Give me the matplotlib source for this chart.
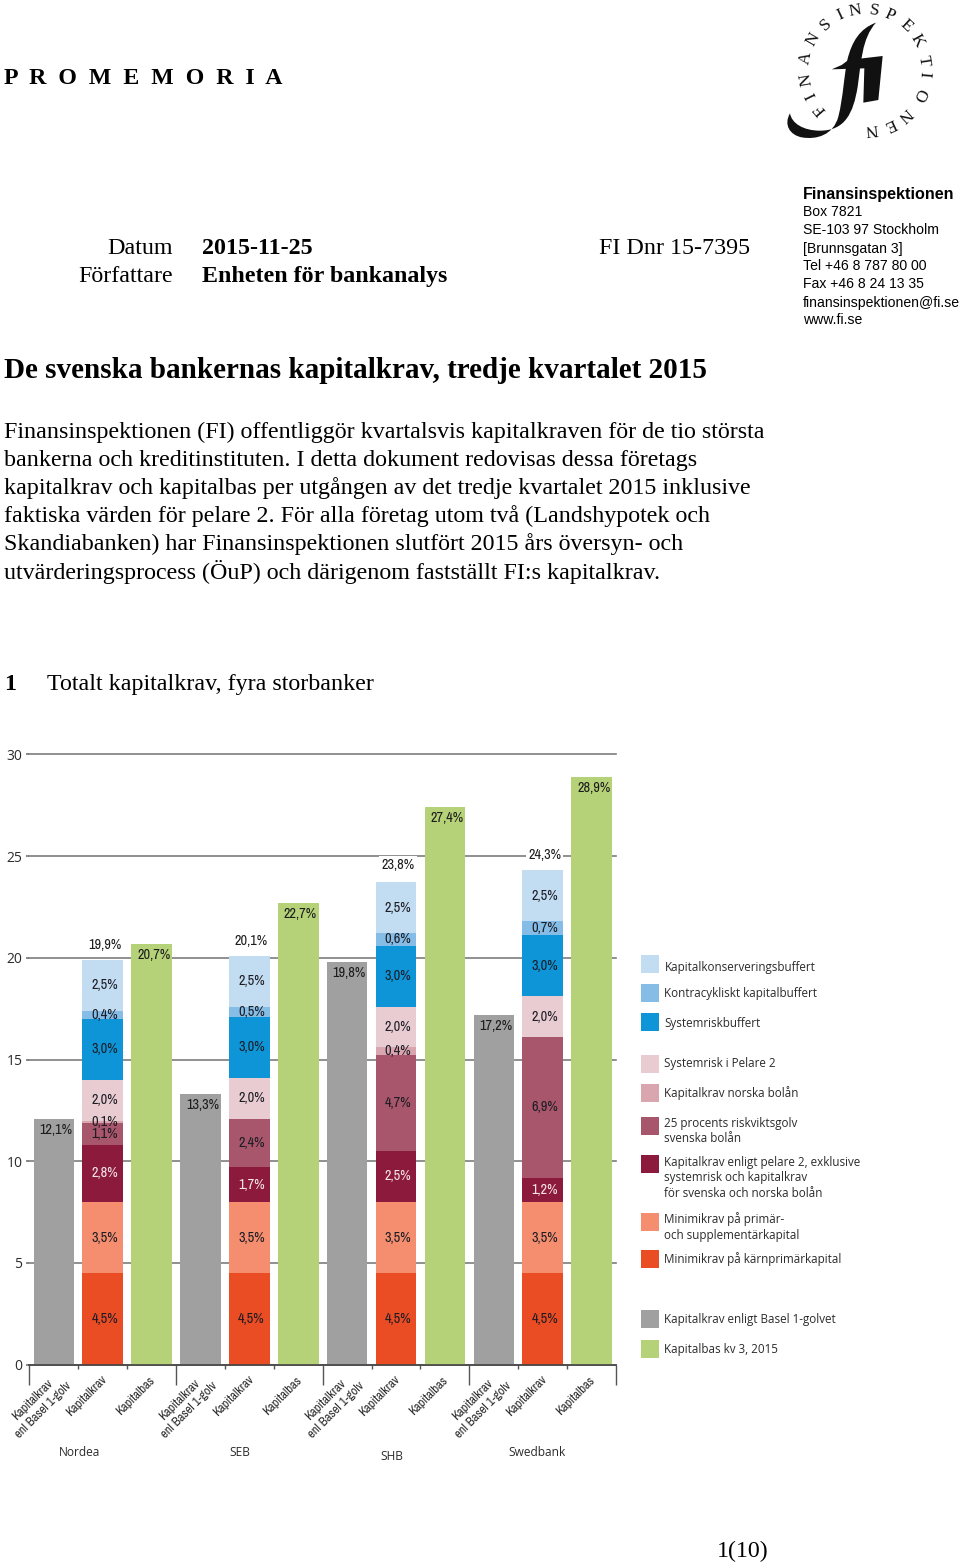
"""Finansinspektionen memo page with the stacked capital requirement chart."""

import numpy as np
import matplotlib
matplotlib.use("Agg")
import matplotlib.pyplot as plt
from matplotlib import font_manager
from matplotlib.patches import PathPatch, Rectangle
from matplotlib.path import Path

# ==========================================
# DATA
# ==========================================
BANKS = ["Nordea", "SEB", "SHB", "Swedbank"]
BASEL_FLOOR = [12.1, 13.3, 19.8, 17.2]
CAPITAL_BASE = [20.7, 22.7, 27.4, 28.9]
TOTALS = [19.9, 20.1, 23.8, 24.3]

# bottom to top
CORE_MIN = [4.5, 4.5, 4.5, 4.5]
PRIMARY_MIN = [3.5, 3.5, 3.5, 3.5]
PILLAR2 = [2.8, 1.7, 2.5, 1.2]
RISK_FLOOR = [1.1, 2.4, 4.7, 6.9]
NORWAY = [0.1, 0.0, 0.4, 0.0]
SYSRISK_P2 = [2.0, 2.0, 2.0, 2.0]
SYSRISK_BUF = [3.0, 3.0, 3.0, 3.0]
COUNTERCYC = [0.4, 0.5, 0.6, 0.7]
CONSERVATION = [2.5, 2.5, 2.5, 2.5]

STACK = [CORE_MIN, PRIMARY_MIN, PILLAR2, RISK_FLOOR, NORWAY,
         SYSRISK_P2, SYSRISK_BUF, COUNTERCYC, CONSERVATION]
STACK_COLORS = ["#EA4C23", "#F58E6E", "#8C1A3D", "#A8566B", "#D9A6B0",
                "#E8CCD2", "#0D95D8", "#85BDE6", "#C2DCF2"]
GREY = "#A0A0A0"
GREEN = "#B6D278"

LEGEND_ITEMS = [
    (964, 967, "#C2DCF2", "Kapitalkonserveringsbuffert"),
    (993, 994, "#85BDE6", "Kontracykliskt kapitalbuffert"),
    (1022, 1023, "#0D95D8", "Systemriskbuffert"),
    (1064, 1064, "#E8CCD2", "Systemrisk i Pelare 2"),
    (1093, 1093, "#D9A6B0", "Kapitalkrav norska bolån"),
    (1126, 1131, "#A8566B", "25 procents riskviktsgolv\nsvenska bolån"),
    (1164, 1178, "#8C1A3D", "Kapitalkrav enligt pelare 2, exklusive\nsystemrisk och kapitalkrav\nför svenska och norska bolån"),
    (1222, 1227, "#F58E6E", "Minimikrav på primär-\noch supplementärkapital"),
    (1259, 1259, "#EA4C23", "Minimikrav på kärnprimärkapital"),
    (1319, 1319, GREY, "Kapitalkrav enligt Basel 1-golvet"),
    (1349, 1349, GREEN, "Kapitalbas kv 3, 2015"),
]

BODY_LINES = [
    "Finansinspektionen (FI) offentliggör kvartalsvis kapitalkraven för de tio största",
    "bankerna och kreditinstituten. I detta dokument redovisas dessa företags",
    "kapitalkrav och kapitalbas per utgången av det tredje kvartalet 2015 inklusive",
    "faktiska värden för pelare 2. För alla företag utom två (Landshypotek och",
    "Skandiabanken) har Finansinspektionen slutfört 2015 års översyn- och",
    "utvärderingsprocess (ÖuP) och därigenom fastställt FI:s kapitalkrav.",
]
CONTACT_LINES = ["Box 7821", "SE-103 97 Stockholm", "[Brunnsgatan 3]", "Tel +46 8 787 80 00",
                 "Fax +46 8 24 13 35", "finansinspektionen@fi.se", "www.fi.se"]

LOGO_LETTERS = "FINANSINSPEKTIONEN"
LOGO_ANGLES = [-131, -116, -100, -79, -60, -41, -25, -10, 9, 24, 43, 61, 81, 95, 115, 138, 155, 174]

W, H = 960, 1563
PX = 0.72  # points per pixel at dpi=100

# a narrow face when one is installed, otherwise the plain face set smaller
narrow_names = sorted({f.name for f in font_manager.fontManager.ttflist
                       if "narrow" in f.name.lower() or "condensed" in f.name.lower()})
HAS_NARROW = bool(narrow_names)
NARROW = narrow_names[0] if HAS_NARROW else "Liberation Sans"
VALUE_SIZE = 10.3 if HAS_NARROW else 8.6
XLABEL_SIZE = 9.1 if HAS_NARROW else 7.6

SERIF = "Liberation Serif"
SANS = "Liberation Sans"
CHART_INK = "#2b2b2b"


def fmt(v: float) -> str:
    return f"{v:.1f}".replace(".", ",") + "%"


def draw_page_text(page) -> None:
    page.text(4, 78, "P  R  O  M  E  M  O  R  I  A", family=SERIF, weight="bold", fontsize=17.2, va="center")
    page.text(173, 248.5, "Datum", family=SERIF, fontsize=17.3, ha="right", va="center")
    page.text(173, 276.5, "Författare", family=SERIF, fontsize=17.3, ha="right", va="center")
    page.text(202, 248.5, "2015-11-25", family=SERIF, weight="bold", fontsize=17.3, va="center")
    page.text(202, 276.5, "Enheten för bankanalys", family=SERIF, weight="bold", fontsize=17.3, va="center")
    page.text(599, 248.5, "FI Dnr 15-7395", family=SERIF, fontsize=17.3, va="center")

    page.text(803, 194, "Finansinspektionen", family=SANS, weight="bold", fontsize=11.65, va="center")
    for i, line in enumerate(CONTACT_LINES):
        page.text(803, 212.5 + 18 * i, line, family=SANS, fontsize=10.1, va="center")

    page.text(4, 371, "De svenska bankernas kapitalkrav, tredje kvartalet 2015",
              family=SERIF, weight="bold", fontsize=21, va="center")
    for i, line in enumerate(BODY_LINES):
        page.text(4, 432.5 + 28 * i, line, family=SERIF, fontsize=17.3, va="center")

    page.text(4, 684.5, "1", family=SERIF, weight="bold", fontsize=17.3, va="center")
    page.text(47, 684.5, "Totalt kapitalkrav, fyra storbanker", family=SERIF, fontsize=17.3, va="center")
    page.text(717, 1551.5, "1(10)", family=SERIF, fontsize=17.2, va="center")


def draw_logo(page) -> None:
    cx, cy, r = 865, 69.5, 59.5
    for letter, ang in zip(LOGO_LETTERS, LOGO_ANGLES):
        a = np.deg2rad(ang)
        page.text(cx + r * np.sin(a), cy - r * np.cos(a), letter, family=SERIF, fontsize=12.5,
                  color="#111111", rotation=-ang, rotation_mode="anchor", ha="center", va="center")

    # fi monogram, outline (3x crop at 770,0)
    M, C, L = Path.MOVETO, Path.CURVE4, Path.LINETO
    stem = [(318, 68), (270, 85), (245, 125), (232, 180),
            (222, 225), (220, 290), (205, 350),
            (190, 405), (140, 420), (95, 412),
            (60, 405), (40, 375), (60, 340),
            (65, 370), (100, 392), (150, 392),
            (225, 392), (250, 340), (263, 260),
            (273, 190), (275, 115), (318, 68)]
    stem_codes = [M] + [C] * 21
    bar = [(185, 208), (215, 195), (235, 180), (338, 168), (325, 300), (280, 308), (283, 205), (185, 208)]
    bar_codes = [M, L, L, L, L, L, L, Path.CLOSEPOLY]
    for verts, codes in ((stem, stem_codes), (bar, bar_codes)):
        pts = np.array(verts, dtype=float) / 3 + [770, 0]
        page.add_patch(PathPatch(Path(pts, codes), fc="#111111", ec="none"))


def draw_chart(ax) -> None:
    n = len(BANKS)
    x0 = np.arange(n) * 3.0
    width = 0.83

    ax.bar(x0, BASEL_FLOOR, width, color=GREY, zorder=2)
    ax.bar(x0 + 2, CAPITAL_BASE, width, color=GREEN, zorder=2)

    bottom = np.zeros(n)
    for vals, col in zip(STACK, STACK_COLORS):
        vals = np.array(vals)
        ax.bar(x0 + 1, vals, width, bottom=bottom, color=col, zorder=2)
        for i in range(n):
            if vals[i] > 0:
                ink = "#f4e6ea" if col == "#8C1A3D" else "#1c1c24"
                ax.annotate(fmt(vals[i]), (x0[i] + 1, bottom[i] + vals[i] / 2), xytext=(1.5, 0),
                            textcoords="offset points", ha="center", va="center", family=NARROW,
                            fontsize=VALUE_SIZE, color=ink, zorder=4)
        bottom += vals

    for i in range(n):
        for x, v in ((x0[i], BASEL_FLOOR[i]), (x0[i] + 2, CAPITAL_BASE[i])):
            ax.annotate(fmt(v), (x, v), xytext=(1.5, -11 * PX), textcoords="offset points",
                        ha="center", va="center", family=NARROW, fontsize=VALUE_SIZE, color="#1c1c1c", zorder=4)
        ax.annotate(fmt(TOTALS[i]), (x0[i] + 1, TOTALS[i]), xytext=(1.5, 15 * PX), textcoords="offset points",
                    ha="center", va="center", family=NARROW, fontsize=VALUE_SIZE, color="#1c1c1c", zorder=4,
                    bbox=dict(fc="white", ec="none", pad=1.5))

    ax.set_xlim(-0.5, 3 * n - 0.5)
    ax.set_ylim(0, 30)
    ax.set_yticks(range(0, 31, 5))
    ax.tick_params(axis="y", length=2, width=1.2, color="#777777", pad=3, labelsize=10, labelcolor=CHART_INK)
    for lab in ax.get_yticklabels():
        lab.set_family("Open Sans")
    ax.yaxis.grid(True, color="#7d7d7d", lw=1.2, zorder=1)
    ax.set_axisbelow(True)
    for line in ax.get_ygridlines():
        line.set_clip_on(False)
    for side in ("top", "right", "left"):
        ax.spines[side].set_visible(False)
    ax.spines["bottom"].set_color("#444444")
    ax.spines["bottom"].set_linewidth(1.2)

    ax.set_xticks(np.arange(0, 3 * n + 1) - 0.5)
    ax.set_xticklabels([])
    ax.tick_params(axis="x", length=3, width=1.0, color="#555555")
    for k, tick in enumerate(ax.xaxis.get_major_ticks()):
        if k % 3 == 0:
            tick.tick1line.set_markersize(20 * PX)

    for i in range(n):
        labels = [("Kapitalkrav\nenl Basel 1-golv", 40), ("Kapitalkrav", 31), ("Kapitalbas", 31)]
        for j, (text, dy) in enumerate(labels):
            ax.annotate(text, (x0[i] + j, 0), xytext=(-16 * PX, -dy * PX), textcoords="offset points",
                        ha="center", va="center", rotation=45, family=NARROW, fontsize=XLABEL_SIZE,
                        color=CHART_INK, linespacing=1.4, annotation_clip=False)


def draw_legend_and_groups(page) -> None:
    for sw_y, txt_y, col, text in LEGEND_ITEMS:
        page.add_patch(Rectangle((641, sw_y - 9), 18, 18, fc=col, ec="none"))
        page.text(664.5, txt_y, text, family="Open Sans", fontsize=8.35, color=CHART_INK,
                  va="center", linespacing=1.22)
    for name, x, y in zip(BANKS, (79.5, 240, 392, 537), (1453, 1453, 1457, 1453)):
        page.text(x, y, name, family="Open Sans", fontsize=8.6, color=CHART_INK, ha="center", va="center")


def main() -> None:
    plt.rcParams["font.family"] = ["Liberation Serif", "DejaVu Sans"]
    fig = plt.figure(figsize=(W / 100, H / 100), dpi=100, facecolor="white")

    page = fig.add_axes([0, 0, 1, 1])
    page.set_xlim(0, W)
    page.set_ylim(H, 0)
    page.axis("off")

    ax = fig.add_axes([29.4 / W, (H - 1364.7) / H, (616 - 29.4) / W, (1364.7 - 754.3) / H])
    ax.patch.set_alpha(0)

    draw_page_text(page)
    draw_logo(page)
    draw_chart(ax)
    draw_legend_and_groups(page)

    fig.savefig("out.png", dpi=100)
    plt.close(fig)


if __name__ == "__main__":
    main()
